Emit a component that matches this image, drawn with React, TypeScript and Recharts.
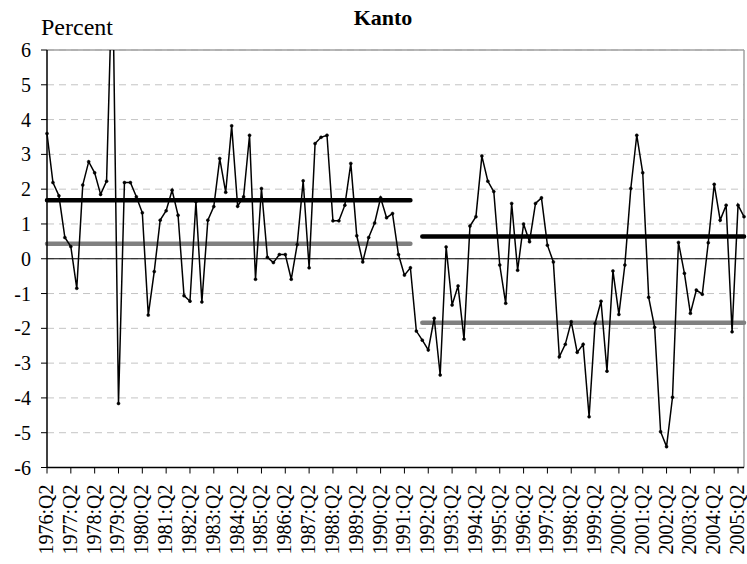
import { LineChart, Line, XAxis, YAxis, CartesianGrid, ReferenceLine } from 'recharts'

const FONT = 'Liberation Serif, Times New Roman, DejaVu Serif, serif'

// quarterly growth, Kanto, starting 1976:Q2
const START_YEAR = 1976
const START_QUARTER = 2
const GROWTH = [
  3.6, 2.19, 1.81, 0.61, 0.35, -0.85, 2.12, 2.79, 2.47, 1.85, 2.23, 8.5,
  -4.16, 2.19, 2.19, 1.78, 1.32, -1.62, -0.37, 1.11, 1.38, 1.97, 1.25, -1.06,
  -1.22, 1.64, -1.24, 1.11, 1.5, 2.88, 1.91, 3.82, 1.51, 1.78, 3.55, -0.59,
  2.02, 0.04, -0.11, 0.12, 0.12, -0.59, 0.41, 2.24, -0.26, 3.31, 3.49, 3.55,
  1.09, 1.09, 1.54, 2.74, 0.66, -0.09, 0.61, 1.03, 1.75, 1.18, 1.3, 0.12,
  -0.47, -0.26, -2.08, -2.34, -2.62, -1.71, -3.34, 0.34, -1.33, -0.78, -2.31, 0.94,
  1.21, 2.95, 2.23, 1.93, -0.18, -1.28, 1.59, -0.33, 1.0, 0.49, 1.59, 1.75,
  0.39, -0.09, -2.82, -2.46, -1.81, -2.69, -2.46, -4.54, -1.86, -1.22, -3.23, -0.35,
  -1.6, -0.18, 2.02, 3.55, 2.47, -1.11, -1.97, -4.97, -5.4, -3.98, 0.47, -0.42,
  -1.57, -0.9, -1.02, 0.46, 2.14, 1.11, 1.54, -2.1, 1.54, 1.21,
]

// sub-period averages: [1976:Q2-1991:Q3, 1992:Q1-end]
const PERIOD_ENDS = ['1991:Q3', '1992:Q1']
const MEAN_BLACK = [1.68, 0.64]
const MEAN_GRAY = [0.43, -1.84]

const Y_TICKS = [-6, -5, -4, -3, -2, -1, 0, 1, 2, 3, 4, 5, 6]

const quarters = GROWTH.map((_, i) => {
  const q = START_QUARTER - 1 + i
  return `${START_YEAR + Math.floor(q / 4)}:Q${(q % 4) + 1}`
})
const firstEnd = quarters.indexOf(PERIOD_ENDS[0])
const secondStart = quarters.indexOf(PERIOD_ENDS[1])

const data = GROWTH.map((v, i) => ({
  quarter: quarters[i],
  growth: v,
  meanBlack: i <= firstEnd ? MEAN_BLACK[0] : i >= secondStart ? MEAN_BLACK[1] : null,
  meanGray: i <= firstEnd ? MEAN_GRAY[0] : i >= secondStart ? MEAN_GRAY[1] : null,
}))

function QuarterTick({ x, y, payload }: any) {
  return (
    <g transform={`translate(${x},${y})`}>
      <text
        x={-9}
        y={0}
        dy="0.3em"
        transform="rotate(-90)"
        textAnchor="end"
        style={{ fontFamily: FONT, fontSize: 20 }}
        fill="#000"
      >
        {payload.value}
      </text>
    </g>
  )
}

export default function App() {
  return (
    <div
      style={{
        position: 'absolute',
        left: 0,
        top: 0,
        width: 747,
        height: 564,
        background: '#fff',
        fontFamily: FONT,
      }}
    >
      <LineChart
        width={747}
        height={564}
        data={data}
        margin={{ top: 50, right: 3, bottom: 0, left: 7 }}
        style={{ fontFamily: FONT }}
      >
        <text x={383} y={25} textAnchor="middle" style={{ fontFamily: FONT, fontSize: 22, fontWeight: 'bold' }}>
          Kanto
        </text>
        <text x={41} y={35} style={{ fontFamily: FONT, fontSize: 24 }}>
          Percent
        </text>
        <CartesianGrid vertical={false} stroke="#c4c4c4" strokeDasharray="7 5" />
        <XAxis
          dataKey="quarter"
          interval={3}
          height={96.5}
          tickSize={6}
          tickMargin={2}
          axisLine={{ stroke: '#000', strokeWidth: 1.5 }}
          tickLine={{ stroke: '#000' }}
          tick={<QuarterTick />}
        />
        <YAxis
          domain={[-6, 6]}
          ticks={Y_TICKS}
          allowDataOverflow
          width={40}
          tickSize={6}
          tickMargin={10}
          axisLine={{ stroke: '#000', strokeWidth: 1.5 }}
          tickLine={{ stroke: '#000' }}
          tick={{ fill: '#000', fontSize: 20, style: { fontFamily: FONT } }}
        />
        <ReferenceLine y={6} stroke="#a0a0a0" strokeWidth={1.5} />
        <ReferenceLine x={quarters[quarters.length - 1]} stroke="#a0a0a0" strokeWidth={1.5} />
        <ReferenceLine y={0} stroke="#000" strokeWidth={1.2} />
        <Line
          dataKey="meanGray"
          stroke="#808080"
          strokeWidth={4.5}
          strokeLinecap="round"
          dot={false}
          activeDot={false}
          isAnimationActive={false}
        />
        <Line
          dataKey="meanBlack"
          stroke="#000"
          strokeWidth={4.5}
          strokeLinecap="round"
          dot={false}
          activeDot={false}
          isAnimationActive={false}
        />
        <Line
          dataKey="growth"
          stroke="#000"
          strokeWidth={1.5}
          dot={{ r: 1.5, fill: '#000', stroke: '#000', strokeWidth: 0.5 }}
          activeDot={false}
          isAnimationActive={false}
        />
      </LineChart>
    </div>
  )
}
